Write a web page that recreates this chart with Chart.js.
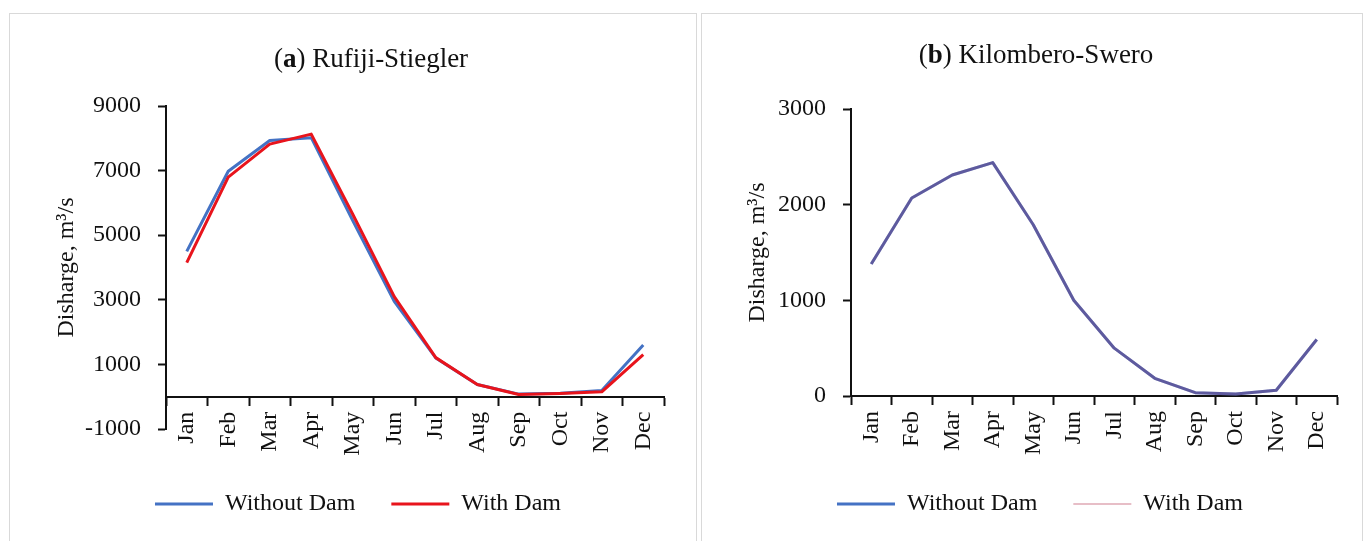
<!DOCTYPE html>
<html>
<head>
<meta charset="utf-8">
<script src="https://cdn.jsdelivr.net/npm/chart.js@4.4.0/dist/chart.umd.min.js"></script>
<style>
  body { margin: 0; background: #fff; width: 1372px; height: 541px; overflow: hidden; position: relative; }
  .panel { position: absolute; top: 13px; border: 1px solid #d9d9d9; background: #fff; }
  #panelA { left: 9px; width: 686px; height: 527px; }
  #panelB { left: 701px; width: 660px; height: 527px; }
  canvas { display: block; }
</style>
</head>
<body>
<div class="panel" id="panelA"><canvas id="chartA" width="686" height="527"></canvas></div>
<div class="panel" id="panelB"><canvas id="chartB" width="660" height="527"></canvas></div>
<script>
// monthly discharge, m3/s
var months = ['Jan', 'Feb', 'Mar', 'Apr', 'May', 'Jun', 'Jul', 'Aug', 'Sep', 'Oct', 'Nov', 'Dec'];

var rufijiWithout = [4500, 6980, 7930, 8020, 5450, 2950, 1200, 380, 80, 110, 190, 1600];
var rufijiWith    = [4150, 6800, 7820, 8130, 5650, 3100, 1210, 380, 70, 100, 150, 1300];
var rufijiTicks   = [-1000, 9000, 2000];   // min, max, step

var kilomberoWithout = [1380, 2070, 2310, 2440, 1790, 1000, 500, 185, 35, 20, 60, 590];
var kilomberoWith    = [1380, 2070, 2310, 2440, 1790, 1000, 500, 185, 35, 20, 60, 590];
var kilomberoTicks   = [0, 3000, 1000];

var FAMILY = '"Liberation Serif", "Times New Roman", serif';
var INK = '#111';
var SIZE = 24;

// "(a) Name" title with the letter in bold
var panelTitle = {
    id: 'panelTitle',
    afterDraw: function(chart, args, opts) {
        var ctx = chart.ctx;
        var parts = opts.parts;
        var total = 0;
        ctx.save();
        for (var i = 0; i < parts.length; i++) {
            ctx.font = (parts[i][1] ? 'bold ' : '') + opts.size + 'px ' + FAMILY;
            total += ctx.measureText(parts[i][0]).width;
        }
        var x = opts.x - total / 2;
        ctx.fillStyle = INK;
        ctx.textBaseline = 'alphabetic';
        ctx.textAlign = 'left';
        for (var j = 0; j < parts.length; j++) {
            ctx.font = (parts[j][1] ? 'bold ' : '') + opts.size + 'px ' + FAMILY;
            ctx.fillText(parts[j][0], x, opts.y);
            x += ctx.measureText(parts[j][0]).width;
        }
        ctx.restore();
    }
};

function buildChart(id, o) {
    return new Chart(document.getElementById(id), {
        type: 'line',
        data: {
            labels: months,
            datasets: [
                { label: 'Without Dam', data: o.without, borderColor: o.withoutColor, borderWidth: 3, order: 2 },
                { label: 'With Dam', data: o.withDam, borderColor: o.withColor, borderWidth: 3, order: 1 }
            ]
        },
        options: {
            responsive: false,
            animation: false,
            devicePixelRatio: 1,
            layout: { padding: o.padding },
            elements: {
                point: { radius: 0, hoverRadius: 0 },
                line: { tension: 0, borderJoinStyle: 'round', borderCapStyle: 'butt' }
            },
            scales: {
                x: {
                    type: 'category',
                    position: { y: 0 },
                    offset: true,
                    grid: { offset: true, drawOnChartArea: false, drawTicks: true, tickLength: 8, tickWidth: 2, tickColor: INK },
                    border: { display: true, color: INK, width: 2 },
                    ticks: { autoSkip: false, minRotation: 90, maxRotation: 90, padding: 7, color: INK, font: { family: FAMILY, size: SIZE } }
                },
                y: {
                    min: o.ticks[0],
                    max: o.ticks[1],
                    afterFit: function(scale) { scale.width = o.yWidth; },
                    grid: { drawOnChartArea: false, drawTicks: true, tickLength: 8, tickWidth: 2, tickColor: INK },
                    border: { display: true, color: INK, width: 2 },
                    ticks: {
                        stepSize: o.ticks[2],
                        padding: 17,
                        color: INK,
                        font: { family: FAMILY, size: SIZE },
                        callback: function(v) { return String(v); }
                    },
                    title: {
                        display: true,
                        text: 'Disharge, m\u00b3/s',
                        color: INK,
                        font: { family: FAMILY, size: SIZE },
                        padding: { top: 0, bottom: 0 }
                    }
                }
            },
            plugins: {
                legend: {
                    position: 'bottom',
                    labels: {
                        usePointStyle: true,
                        pointStyle: 'line',
                        pointStyleWidth: 58,
                        padding: 36,
                        color: INK,
                        font: { family: FAMILY, size: SIZE },
                        sort: function(a, b) { return a.datasetIndex - b.datasetIndex; },
                        generateLabels: function(chart) {
                            var items = Chart.defaults.plugins.legend.labels.generateLabels(chart);
                            items.forEach(function(item) {
                                if (o.legendColors) {
                                    item.strokeStyle = o.legendColors[item.datasetIndex];
                                    item.lineWidth = o.legendWidths[item.datasetIndex];
                                }
                            });
                            return items;
                        }
                    }
                },
                // empty bottom block, only keeps the legend away from the axis labels
                subtitle: {
                    display: true,
                    position: 'bottom',
                    weight: 500,
                    text: '',
                    font: { size: 1, lineHeight: 1 },
                    padding: { top: o.gap, bottom: 0 }
                },
                tooltip: { enabled: false },
                panelTitle: { parts: o.title, size: 27, x: o.titleX, y: o.titleY }
            }
        },
        plugins: [panelTitle]
    });
}

buildChart('chartA', {
    without: rufijiWithout,
    withDam: rufijiWith,
    ticks: rufijiTicks,
    withoutColor: '#4472c4',
    withColor: '#e8141c',
    padding: { left: 42, right: 32, top: 92, bottom: 15 },
    yWidth: 114,
    gap: 26,
    title: [['(', false], ['a', true], [') Rufiji-Stiegler', false]],
    titleX: 361,
    titleY: 53
});

buildChart('chartB', {
    without: kilomberoWithout,
    withDam: kilomberoWith,
    ticks: kilomberoTicks,
    withoutColor: '#4472c4',
    withColor: 'rgba(155, 37, 69, 0.3)',
    legendColors: ['#4472c4', 'rgba(200, 110, 130, 0.6)'],
    legendWidths: [3, 1.5],
    padding: { left: 41, right: 25, top: 95, bottom: 15 },
    yWidth: 108,
    gap: 59,
    title: [['(', false], ['b', true], [') Kilombero-Swero', false]],
    titleX: 334,
    titleY: 49
});
</script>
</body>
</html>
